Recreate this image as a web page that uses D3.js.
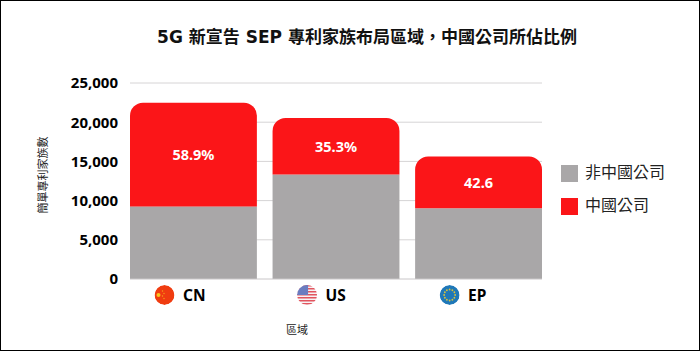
<!DOCTYPE html>
<html lang="zh-Hant">
<head>
<meta charset="utf-8">
<script src="https://cdn.jsdelivr.net/npm/d3@7"></script>
<style>
  html, body { margin: 0; padding: 0; background: #fff; }
  text { font-family: "Noto Sans", "Noto Sans CJK TC", sans-serif; }
</style>
</head>
<body>
<div id="chart"></div>
<script>
// Data
const regions = ['CN', 'US', 'EP']
const nonChina = [9260, 13330, 9020]
const china = [13230, 7210, 6610]
const shareLabels = ['58.9%', '35.3%', '42.6']
const yTicks = [0, 5000, 10000, 15000, 20000, 25000]
const legendLabels = ['非中國公司', '中國公司']
const colors = ['#a9a7a8', '#fb1518']

const width = 700
const height = 351

const svg = d3.select('#chart')
  .append('svg')
  .attr('width', width)
  .attr('height', height)
  .style('display', 'block')

// Scales
const xScale = d3.scaleBand()
  .domain(regions)
  .range([130, 542])
  .paddingInner(0.11)

const yScale = d3.scaleLinear()
  .domain([0, 25000])
  .range([279, 83])

// Frame
svg.append('rect')
  .attr('x', 0.5).attr('y', 0.5)
  .attr('width', width - 1).attr('height', height - 1)
  .attr('fill', 'none')
  .attr('stroke', '#000')

// Title
svg.append('text')
  .attr('x', 367).attr('y', 42.5)
  .attr('text-anchor', 'middle')
  .attr('font-size', 17)
  .attr('font-weight', 700)
  .attr('fill', '#111')
  .style('font-family', '"DejaVu Sans", "Noto Sans CJK TC", sans-serif')
  .text('5G 新宣告 SEP 專利家族布局區域\uFF0C中國公司所佔比例')

// Grid
svg.append('g')
  .selectAll('line')
  .data(yTicks.slice(1))
  .join('line')
  .attr('x1', 130).attr('x2', 542)
  .attr('y1', d => yScale(d)).attr('y2', d => yScale(d))
  .attr('stroke', '#d6d4d5')
  .attr('stroke-width', 1)

// Axis
const yAxis = d3.axisLeft(yScale)
  .tickValues(yTicks)
  .tickFormat(d3.format(','))
  .tickSize(0)
  .tickPadding(12)
const yAxisGroup = svg.append('g')
  .attr('transform', 'translate(130, 0)')
  .call(yAxis)
yAxisGroup.select('.domain').remove()
yAxisGroup.selectAll('text')
  .attr('font-size', 15)
  .attr('font-weight', 700)
  .attr('fill', '#000')
  .style('font-family', '"Noto Sans", sans-serif')

// Bars
const radius = 13
const bw = xScale.bandwidth()
regions.forEach((r, i) => {
  const x0 = xScale(r)
  const yMid = yScale(nonChina[i])
  const yTop = yScale(nonChina[i] + china[i])
  svg.append('rect')
    .attr('x', x0).attr('y', yMid)
    .attr('width', bw).attr('height', yScale(0) - yMid)
    .attr('fill', colors[0])
  const p = d3.path()
  p.moveTo(x0, yMid)
  p.lineTo(x0, yTop + radius)
  p.arcTo(x0, yTop, x0 + radius, yTop, radius)
  p.lineTo(x0 + bw - radius, yTop)
  p.arcTo(x0 + bw, yTop, x0 + bw, yTop + radius, radius)
  p.lineTo(x0 + bw, yMid)
  p.closePath()
  svg.append('path').attr('d', p.toString()).attr('fill', colors[1])
  svg.append('text')
    .attr('x', x0 + bw / 2)
    .attr('y', (yTop + yMid) / 2 + 5.5)
    .attr('text-anchor', 'middle')
    .attr('font-size', 14.5)
    .attr('font-weight', 700)
    .attr('fill', '#fff')
    .text(shareLabels[i])
})

// Baseline
svg.append('line')
  .attr('x1', 130).attr('x2', 542)
  .attr('y1', yScale(0)).attr('y2', yScale(0))
  .attr('stroke', '#c9c6c8')

// Axis titles
svg.append('text')
  .attr('transform', 'translate(47, 175) rotate(-90)')
  .attr('text-anchor', 'middle')
  .attr('font-size', 11)
  .attr('fill', '#222')
  .text('簡單專利家族數')
svg.append('text')
  .attr('x', 297).attr('y', 334)
  .attr('text-anchor', 'middle')
  .attr('font-size', 11)
  .attr('fill', '#222')
  .text('區域')

// Region labels with flags
const flagR = 10
const flagOffset = 34.5
const labelOffset = 18.5
const defs = svg.append('defs')
regions.forEach((r, i) => {
  const cx = xScale(r) + flagOffset
  const cy = 295
  defs.append('clipPath').attr('id', 'flag' + r)
    .append('circle').attr('cx', cx).attr('cy', cy).attr('r', flagR)
  const g = svg.append('g').attr('clip-path', `url(#flag${r})`)
  if (r === 'CN') {
    g.append('circle').attr('cx', cx).attr('cy', cy).attr('r', flagR).attr('fill', '#f03c10')
    g.append('circle').attr('cx', cx - 6).attr('cy', cy).attr('r', 2).attr('fill', '#f9c41e')
    d3.range(4).forEach(k => {
      g.append('circle')
        .attr('cx', cx - 2 + (k % 2) * 1.5)
        .attr('cy', cy - 4 + k * 2.5)
        .attr('r', 0.7).attr('fill', '#f2a31a')
    })
  }
  if (r === 'US') {
    g.append('circle').attr('cx', cx).attr('cy', cy).attr('r', flagR).attr('fill', '#f6f3f4')
    d3.range(7).forEach(k => {
      g.append('rect')
        .attr('x', cx - flagR).attr('y', cy - flagR + k * 3)
        .attr('width', flagR * 2).attr('height', 1.5)
        .attr('fill', '#e2555f')
    })
    g.append('rect')
      .attr('x', cx - flagR).attr('y', cy - flagR)
      .attr('width', 11).attr('height', 10)
      .attr('fill', '#6a7cc0')
  }
  if (r === 'EP') {
    g.append('circle').attr('cx', cx).attr('cy', cy).attr('r', flagR).attr('fill', '#1f78b8')
    d3.range(12).forEach(k => {
      const a = k / 12 * 2 * Math.PI
      g.append('circle')
        .attr('cx', cx + Math.cos(a) * 5.5)
        .attr('cy', cy + Math.sin(a) * 5.5)
        .attr('r', 0.9).attr('fill', '#d9c23a')
    })
  }
  svg.append('text')
    .attr('x', cx + labelOffset).attr('y', 301)
    .attr('font-size', 15.5)
    .attr('font-weight', 700)
    .attr('fill', '#000')
    .text(r)
})

// Legend
legendLabels.forEach((label, i) => {
  const y = 165 + i * 33
  svg.append('rect')
    .attr('x', 561).attr('y', y)
    .attr('width', 17).attr('height', 17)
    .attr('fill', colors[i])
  svg.append('text')
    .attr('x', 585).attr('y', y + 13)
    .attr('font-size', 16)
    .attr('fill', '#222')
    .text(label)
})
</script>
</body>
</html>
